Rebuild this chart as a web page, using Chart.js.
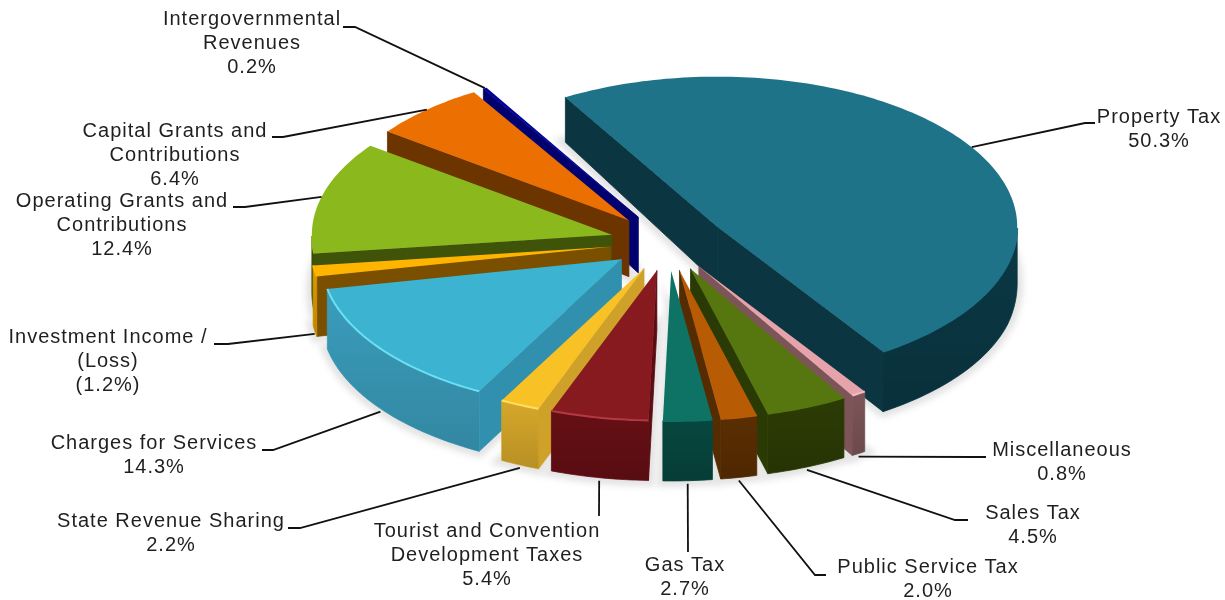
<!DOCTYPE html>
<html>
<head>
<meta charset="utf-8">
<title>Revenues by source</title>
<script src="https://cdn.jsdelivr.net/npm/chart.js@4"></script>
<style>
  html, body { margin: 0; background: #fff; }
  canvas { display: block; }
</style>
</head>
<body>
<canvas id="chart" width="1225" height="600"></canvas>
<script>
// revenue shares, clockwise from Property Tax (Investment Income is a loss, drawn by size)
const sources = ["Property Tax", "Miscellaneous", "Sales Tax", "Public Service Tax", "Gas Tax",
  "Tourist and Convention Development Taxes", "State Revenue Sharing", "Charges for Services",
  "Investment Income / (Loss)", "Operating Grants and Contributions",
  "Capital Grants and Contributions", "Intergovernmental Revenues"];
const values = [50.3, 0.8, 4.5, 2.0, 2.7, 5.4, 2.2, 14.3, 1.2, 12.4, 6.4, 0.2];
const valueLabels = ["50.3%", "0.8%", "4.5%", "2.0%", "2.7%", "5.4%", "2.2%", "14.3%", "(1.2%)", "12.4%", "6.4%", "0.2%"];

const topColors = ["#1e7389", "#e6a3ab", "#56760f", "#b85b05", "#0e7264", "#861a1e", "#f8c125", "#3cb3d1", "#ffb400", "#8bb81d", "#ec6f02", "#00009c"];
const cutColors = ["#0a3541", "#7d5558", "#2a3a04", "#552c02", "#07433c", "#5b0d11", "#cfa128", "#3090ae", "#7a4f00", "#3f5309", "#6c3500", "#00006e"];
const wallColors = ["#0a3844", "#7d5558", "#2c3c05", "#5a2e02", "#07473f", "#660f14", "#d6a72a", "#3a9dbc", "#dc9c00", "#3f5309", "#6c3500", "#00006e"];
const rimColors = ["#1e7389", "#f4bcc2", "#56760f", "#b85b05", "#0e7264", "#b23a44", "#ffe060", "#6be0f5", "#ffb400", "#8bb81d", "#ec6f02", "#00009c"];

// label text lines and where they sit
const labelLines = [
  ["Property Tax"], ["Miscellaneous"], ["Sales Tax"], ["Public Service Tax"], ["Gas Tax"],
  ["Tourist and Convention", "Development Taxes"], ["State Revenue Sharing"], ["Charges for Services"],
  ["Investment Income /", "(Loss)"], ["Operating Grants and", "Contributions"],
  ["Capital Grants and", "Contributions"], ["Intergovernmental", "Revenues"]
];
const labelCenters = [[1159, 117], [1062, 450], [1033, 513], [928, 567], [685, 565], [487, 531], [171, 521], [154, 443], [108, 337], [122, 201], [175, 131], [252, 19]];
const leaderElbows = [
  [[1085, 123], [1095, 123]], [[975, 457], [986, 457]], [[955, 520], [968, 520]], [[815, 575], [826, 575]],
  [[688, 552]], [[599, 516]], [[300, 528], [288, 528]], [[273, 450], [262, 450]],
  [[228, 344], [214, 344]], [[245, 207], [233, 207]], [[283, 137], [272, 137]], [[355, 27], [343, 27]]
];

const pieCenterY = 242;
const tilt = 0.5;
const lineHeight = 24;

// the wall is a little shorter toward the back of the pie
function depthAt(y) {
  return Math.min(60, 45 + (y - 97) * 0.09);
}

function wedge(arc) {
  const p = arc.getProps(["x", "y", "startAngle", "endAngle", "outerRadius"], true);
  const mid = (p.startAngle + p.endAngle) / 2;
  const off = arc.options.offset;
  const ox = p.x + Math.cos(mid) * off;
  const oy = p.y + Math.sin(mid) * off;
  const at = (a, r) => ({ x: ox + Math.cos(a) * r, y: pieCenterY + (oy + Math.sin(a) * r - pieCenterY) * tilt });
  const pts = [];
  const steps = Math.max(2, Math.ceil((p.endAngle - p.startAngle) / 0.02));
  for (let i = 0; i <= steps; i++) {
    const a = p.startAngle + (p.endAngle - p.startAngle) * i / steps;
    pts.push({ a, ...at(a, p.outerRadius) });
  }
  return { apex: at(0, 0), pts, mid, rimMid: at(mid, p.outerRadius), start: p.startAngle, end: p.endAngle };
}

function down(pt) {
  return { x: pt.x, y: pt.y + depthAt(pt.y) };
}

function fillPath(ctx, pts, color, seam) {
  ctx.beginPath();
  pts.forEach((q, i) => i ? ctx.lineTo(q.x, q.y) : ctx.moveTo(q.x, q.y));
  ctx.closePath();
  ctx.fillStyle = color;
  ctx.fill();
  if (seam) {
    ctx.strokeStyle = color;
    ctx.lineWidth = 0.8;
    ctx.stroke();
  }
}

// extruded slices, painted from the back of the pie to the front
const pie3d = {
  id: "pie3d",
  beforeDatasetDraw(chart) {
    const ctx = chart.ctx;
    const arcs = chart.getDatasetMeta(0).data;
    const slices = arcs.map((arc, i) => ({ i, ...wedge(arc) }));
    slices.sort((a, b) => Math.sin(a.mid) - Math.sin(b.mid));

    // soft shadow below the pie
    ctx.save();
    ctx.filter = "blur(3px)";
    slices.forEach(s => {
      const base = [down(s.apex), ...s.pts.map(down)];
      fillPath(ctx, base, "#e4e4e4");
      ctx.strokeStyle = "#e4e4e4";
      ctx.lineWidth = 12;
      ctx.stroke();
    });
    ctx.restore();

    slices.forEach(s => {
      const first = s.pts[0];
      const last = s.pts[s.pts.length - 1];
      if (Math.cos(s.start) < 0) fillPath(ctx, [s.apex, first, down(first), down(s.apex)], cutColors[s.i], true);
      if (Math.cos(s.end) > 0) fillPath(ctx, [s.apex, last, down(last), down(s.apex)], cutColors[s.i], true);
      const front = s.pts.filter(q => Math.sin(q.a) > 0);
      if (front.length > 1) {
        const wall = [...front, ...front.slice().reverse().map(down)];
        fillPath(ctx, wall, wallColors[s.i], true);
        // the wall darkens slightly toward its foot
        const ys = wall.map(q => q.y);
        const shade = ctx.createLinearGradient(0, Math.min(...ys), 0, Math.max(...ys));
        shade.addColorStop(0, "rgba(0,0,0,0)");
        shade.addColorStop(1, "rgba(0,0,0,0.14)");
        fillPath(ctx, wall, shade);
      }
      fillPath(ctx, [s.apex, ...s.pts], topColors[s.i]);
      if (front.length > 1) {
        ctx.beginPath();
        front.forEach((q, k) => k ? ctx.lineTo(q.x, q.y) : ctx.moveTo(q.x, q.y));
        ctx.strokeStyle = rimColors[s.i];
        ctx.lineWidth = 2;
        ctx.stroke();
      }
    });
    return false;
  },
  afterDraw(chart) {
    const ctx = chart.ctx;
    const arcs = chart.getDatasetMeta(0).data;
    ctx.save();
    // leader lines start on the rim of the slice
    ctx.strokeStyle = "#111";
    ctx.lineWidth = 1.8;
    arcs.forEach((arc, i) => {
      const s = wedge(arc);
      const startY = Math.sin(s.mid) > 0 ? s.rimMid.y + depthAt(s.rimMid.y) + 3 : s.rimMid.y;
      ctx.beginPath();
      ctx.moveTo(s.rimMid.x, startY);
      leaderElbows[i].forEach(q => ctx.lineTo(q[0], q[1]));
      ctx.stroke();
    });
    ctx.font = "20px 'Liberation Sans'";
    ctx.letterSpacing = "1px";
    ctx.fillStyle = "#1f1f1f";
    ctx.textAlign = "center";
    ctx.textBaseline = "middle";
    labelLines.forEach((lines, i) => {
      const [x, y] = labelCenters[i];
      [...lines, valueLabels[i]].forEach((t, k) => ctx.fillText(t, x, y + k * lineHeight));
    });
    ctx.restore();
  }
};

new Chart(document.getElementById("chart"), {
  type: "pie",
  data: {
    labels: sources,
    datasets: [{
      data: values,
      backgroundColor: topColors,
      borderWidth: 0,
      offset: 58
    }]
  },
  options: {
    responsive: false,
    animation: false,
    rotation: 329.6,
    radius: 300,
    layout: { padding: { left: 111, bottom: 116 } },
    plugins: { legend: { display: false }, tooltip: { enabled: false } }
  },
  plugins: [pie3d]
});
</script>
</body>
</html>
